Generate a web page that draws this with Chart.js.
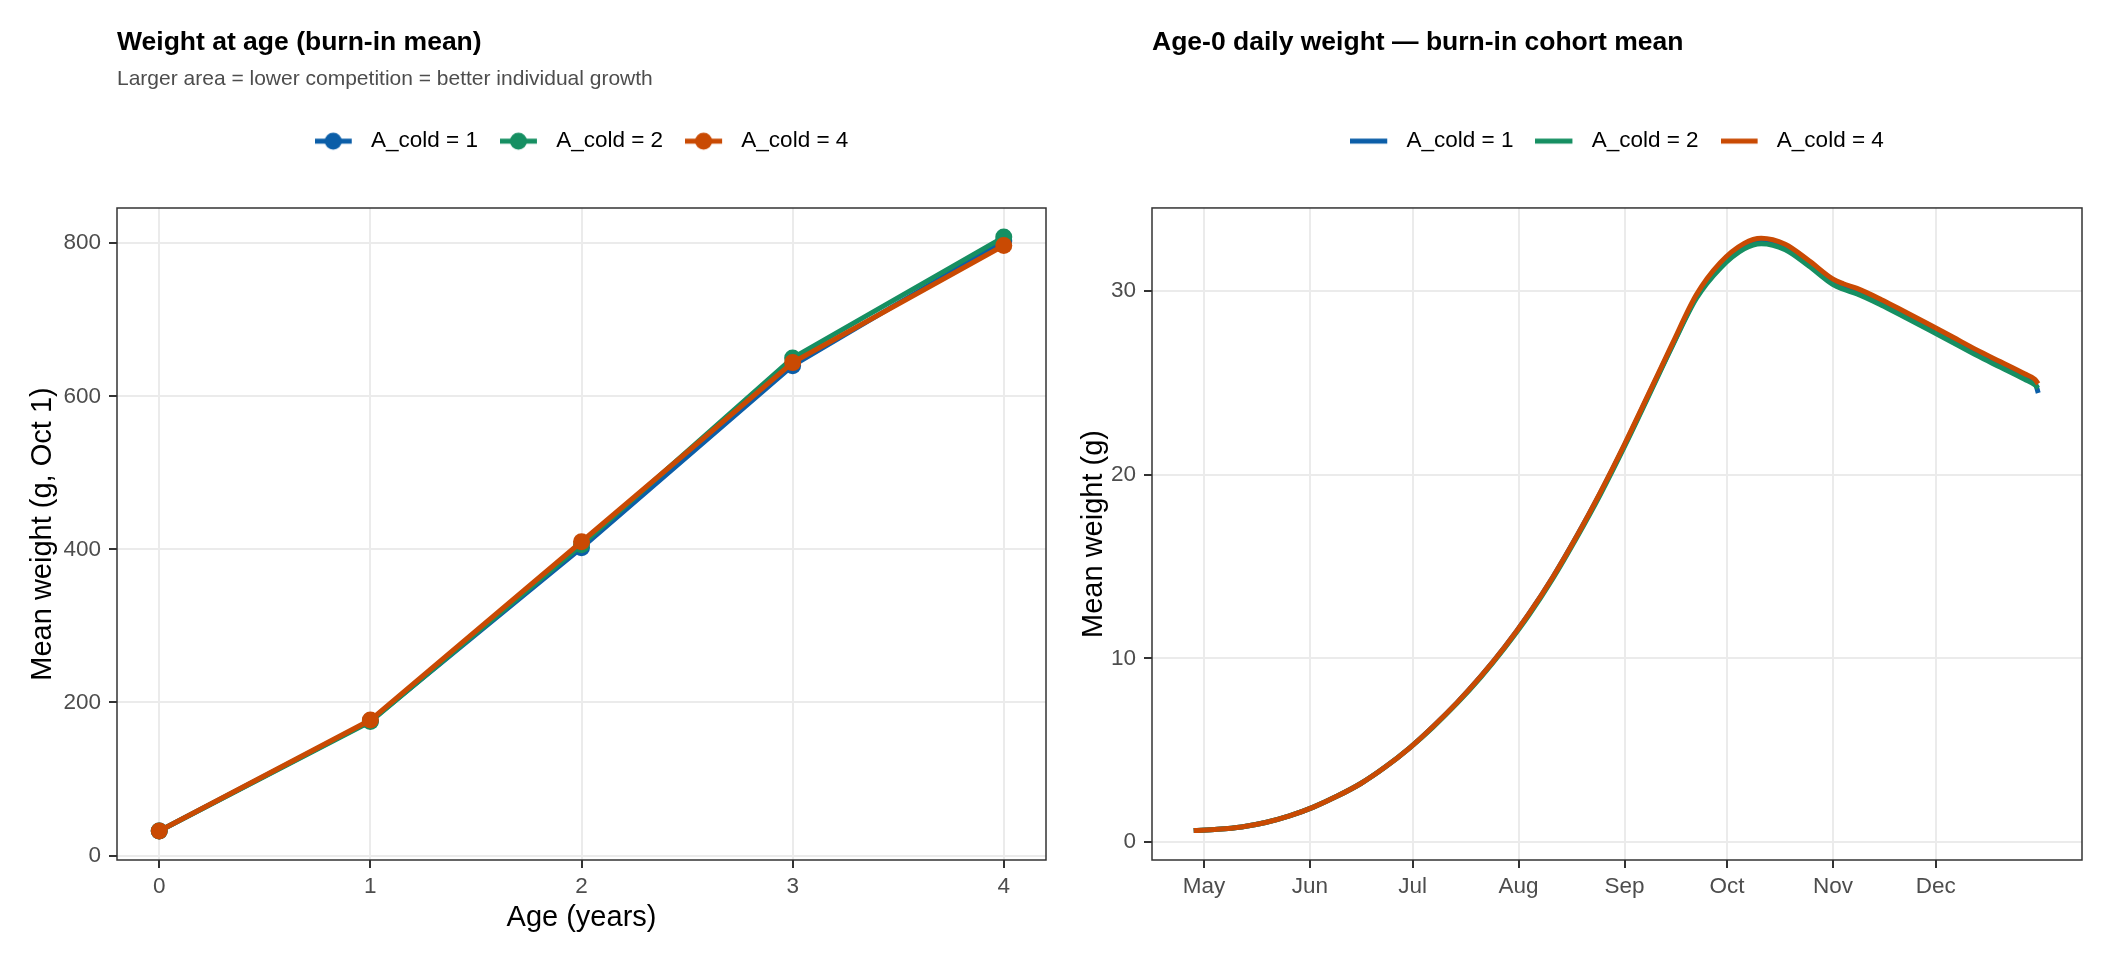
<!DOCTYPE html>
<html>
<head>
<meta charset="utf-8">
<script src="https://cdn.jsdelivr.net/npm/chart.js@4.4.1/dist/chart.umd.min.js"></script>
<style>
  body { margin: 0; background: #fff; }
  canvas { position: absolute; top: 0; }
  #ageChart { left: 0; }
  #dailyChart { left: 1056px; }
</style>
</head>
<body>
<canvas id="ageChart" width="1056" height="960"></canvas>
<canvas id="dailyChart" width="1056" height="960"></canvas>
<script>
// weight at age, g on Oct 1
const ages = [0, 1, 2, 3, 4];
const weightAtAgeA1 = [32, 176, 402, 640, 803];
const weightAtAgeA2 = [32, 175, 406, 650, 808];
const weightAtAgeA4 = [32, 177, 410, 644, 797];
const ageTicks = [0, 1, 2, 3, 4];
const weightTicks = [0, 200, 400, 600, 800];

// age-0 daily weight, read about once a week
const dailyDates = ['04-28', '05-05', '05-12', '05-19', '05-26', '06-02', '06-09', '06-16', '06-23', '06-30',
    '07-07', '07-14', '07-21', '07-28', '08-04', '08-11', '08-18', '08-25', '09-01', '09-08',
    '09-15', '09-22', '09-29', '10-06', '10-11', '10-18', '10-25', '11-01', '11-04', '11-08',
    '11-15', '11-22', '11-29', '12-06', '12-13', '12-20', '12-27', '12-30', '12-31'];
const dailyA1 = [0.62, 0.69, 0.82, 1.06, 1.42, 1.90, 2.50, 3.20, 4.08, 5.10,
    6.29, 7.59, 9.03, 10.63, 12.42, 14.42, 16.65, 19.04, 21.61, 24.34,
    27.06, 29.68, 31.40, 32.45, 32.73, 32.40, 31.50, 30.50, 30.25, 30.00,
    29.40, 28.73, 28.05, 27.35, 26.65, 26.00, 25.35, 25.05, 24.45];
const dailyA2 = [0.62, 0.69, 0.82, 1.06, 1.42, 1.90, 2.50, 3.20, 4.08, 5.10,
    6.26, 7.55, 8.98, 10.58, 12.34, 14.34, 16.57, 18.95, 21.54, 24.27,
    27.02, 29.60, 31.25, 32.30, 32.58, 32.25, 31.35, 30.35, 30.10, 29.85,
    29.25, 28.58, 27.90, 27.20, 26.50, 25.85, 25.20, 24.90, 24.72];
const dailyA4 = [0.62, 0.69, 0.82, 1.06, 1.42, 1.90, 2.50, 3.20, 4.08, 5.10,
    6.29, 7.59, 9.03, 10.63, 12.42, 14.42, 16.65, 19.07, 21.66, 24.39,
    27.14, 29.80, 31.55, 32.60, 32.88, 32.55, 31.65, 30.65, 30.40, 30.15,
    29.55, 28.88, 28.20, 27.50, 26.80, 26.15, 25.50, 25.20, 24.95];
const monthTickDates = ['05-01', '06-01', '07-01', '08-01', '09-01', '10-01', '11-01', '12-01'];
const monthTickLabels = ['May', 'Jun', 'Jul', 'Aug', 'Sep', 'Oct', 'Nov', 'Dec'];
const dailyWeightTicks = [0, 10, 20, 30];

const seriesLabels = ['A_cold = 1', 'A_cold = 2', 'A_cold = 4'];
const seriesColors = ['#0b5ea8', '#168f62', '#c94a03'];

Chart.defaults.font.family = '"Liberation Sans", Arial, Helvetica, sans-serif';
Chart.defaults.color = '#4d4d4d';

// day of year (non-leap) from 'MM-DD'
const monthOffsets = [0, 31, 59, 90, 120, 151, 181, 212, 243, 273, 304, 334];
function dayOfYear(s) {
    const [m, d] = s.split('-').map(Number);
    return monthOffsets[m - 1] + d;
}

// legend keys: a short line, with a dot for the left panel
function makeKey(color, withDot) {
    const c = document.createElement('canvas');
    c.width = 45;
    c.height = 20;
    const g = c.getContext('2d');
    g.strokeStyle = color;
    g.lineWidth = 5;
    g.beginPath();
    g.moveTo(0, 10);
    g.lineTo(37, 10);
    g.stroke();
    if (withDot) {
        g.fillStyle = color;
        g.beginPath();
        g.arc(18.5, 10, 8.5, 0, Math.PI * 2);
        g.fill();
    }
    return c;
}

function legendOptions(withDot) {
    const keys = seriesColors.map(c => makeKey(c, withDot));
    return {
        position: 'top',
        align: 'center',
        fullSize: false,
        labels: {
            usePointStyle: true,
            pointStyleWidth: 45,
            padding: 22,
            color: '#000',
            font: { size: 22.5 },
            sort: (a, b) => a.datasetIndex - b.datasetIndex,
            generateLabels: (chart) =>
                Chart.defaults.plugins.legend.labels.generateLabels(chart).map(item => {
                    item.pointStyle = keys[item.datasetIndex];
                    return item;
                })
        }
    };
}

// ggplot-like full panel border
const panelBorder = {
    id: 'panelBorder',
    afterDatasetsDraw(chart) {
        const { ctx, chartArea: a } = chart;
        ctx.save();
        ctx.strokeStyle = '#333333';
        ctx.lineWidth = 1.5;
        ctx.strokeRect(a.left, a.top, a.right - a.left, a.bottom - a.top);
        ctx.restore();
    }
};

// leave space between the legend and the panel
const legendGap = {
    id: 'legendGap',
    afterInit(chart) {
        const fit = chart.legend.fit;
        chart.legend.fit = function () {
            fit.call(this);
            this.height += 45.6;
        };
    }
};

const gridStyle = {
    color: '#ebebeb',
    lineWidth: 2,
    tickColor: '#333333',
    tickLength: 8,
    tickWidth: 2
};

function toPoints(xs, ys) {
    return xs.map((x, i) => ({ x: x, y: ys[i] }));
}

const ageData = [weightAtAgeA1, weightAtAgeA2, weightAtAgeA4];
const ctx = document.getElementById('ageChart');

new Chart(ctx, {
    type: 'line',
    data: {
        datasets: ageData.map((vals, i) => ({
            label: seriesLabels[i],
            data: toPoints(ages, vals),
            borderColor: seriesColors[i],
            backgroundColor: seriesColors[i],
            pointBackgroundColor: seriesColors[i],
            pointBorderWidth: 0,
            pointRadius: 8.5,
            borderWidth: 5,
            tension: 0,
            order: 3 - i
        }))
    },
    options: {
        responsive: false,
        animation: false,
        layout: { padding: { left: 0, right: 10, top: 0, bottom: 0 } },
        plugins: {
            title: {
                display: true,
                text: 'Weight at age (burn-in mean)',
                align: 'start',
                fullSize: false,
                color: '#000',
                font: { size: 26.5, weight: 'bold' },
                padding: { top: 26.5, bottom: 8.5 }
            },
            subtitle: {
                display: true,
                text: 'Larger area = lower competition = better individual growth',
                align: 'start',
                fullSize: false,
                color: '#4d4d4d',
                font: { size: 21 },
                padding: { top: 0, bottom: 15.9 }
            },
            legend: legendOptions(true),
            tooltip: { enabled: false }
        },
        scales: {
            x: {
                type: 'linear',
                min: -0.2,
                max: 4.2,
                afterBuildTicks: (s) => { s.ticks = ageTicks.map(v => ({ value: v })); },
                afterFit: (s) => { s.height = 100; },
                grid: gridStyle,
                border: { display: false },
                ticks: { font: { size: 22.5 }, color: '#4d4d4d', padding: 5 },
                title: {
                    display: true,
                    text: 'Age (years)',
                    color: '#000',
                    font: { size: 29 },
                    padding: { top: 0, bottom: 25 }
                }
            },
            y: {
                min: -5.8,
                max: 846,
                afterBuildTicks: (s) => { s.ticks = weightTicks.map(v => ({ value: v })); },
                afterFit: (s) => { s.width = 117; },
                grid: gridStyle,
                border: { display: false },
                ticks: { font: { size: 22.5 }, color: '#4d4d4d', padding: 8 },
                title: {
                    display: true,
                    text: 'Mean weight (g, Oct 1)',
                    color: '#000',
                    font: { size: 29 },
                    padding: { top: 26, bottom: 0 }
                }
            }
        }
    },
    plugins: [panelBorder, legendGap]
});

const dailyData = [dailyA1, dailyA2, dailyA4];
const dailyDays = dailyDates.map(dayOfYear);
const monthTickDays = monthTickDates.map(dayOfYear);
const ctx2 = document.getElementById('dailyChart');

new Chart(ctx2, {
    type: 'line',
    data: {
        datasets: dailyData.map((vals, i) => ({
            label: seriesLabels[i],
            data: toPoints(dailyDays, vals),
            borderColor: seriesColors[i],
            backgroundColor: seriesColors[i],
            pointRadius: 0,
            borderWidth: 5,
            cubicInterpolationMode: 'monotone',
            order: 3 - i
        }))
    },
    options: {
        responsive: false,
        animation: false,
        layout: { padding: { left: 0, right: 30, top: 0, bottom: 0 } },
        plugins: {
            title: {
                display: true,
                text: 'Age-0 daily weight — burn-in cohort mean',
                align: 'start',
                fullSize: false,
                color: '#000',
                font: { size: 26.5, weight: 'bold' },
                padding: { top: 26.5, bottom: 49.55 }
            },
            legend: legendOptions(false),
            tooltip: { enabled: false }
        },
        scales: {
            x: {
                type: 'linear',
                min: 105.8,
                max: 377.8,
                afterBuildTicks: (s) => { s.ticks = monthTickDays.map(v => ({ value: v })); },
                afterFit: (s) => { s.height = 100; },
                grid: gridStyle,
                border: { display: false },
                ticks: {
                    font: { size: 22.5 },
                    color: '#4d4d4d',
                    padding: 5,
                    callback: (v, i) => monthTickLabels[i]
                }
            },
            y: {
                min: -0.98,
                max: 34.53,
                afterBuildTicks: (s) => { s.ticks = dailyWeightTicks.map(v => ({ value: v })); },
                afterFit: (s) => { s.width = 96; },
                grid: gridStyle,
                border: { display: false },
                ticks: { font: { size: 22.5 }, color: '#4d4d4d', padding: 8 },
                title: {
                    display: true,
                    text: 'Mean weight (g)',
                    color: '#000',
                    font: { size: 29 },
                    padding: { top: 20.6, bottom: 0 }
                }
            }
        }
    },
    plugins: [panelBorder, legendGap]
});
</script>
</body>
</html>
